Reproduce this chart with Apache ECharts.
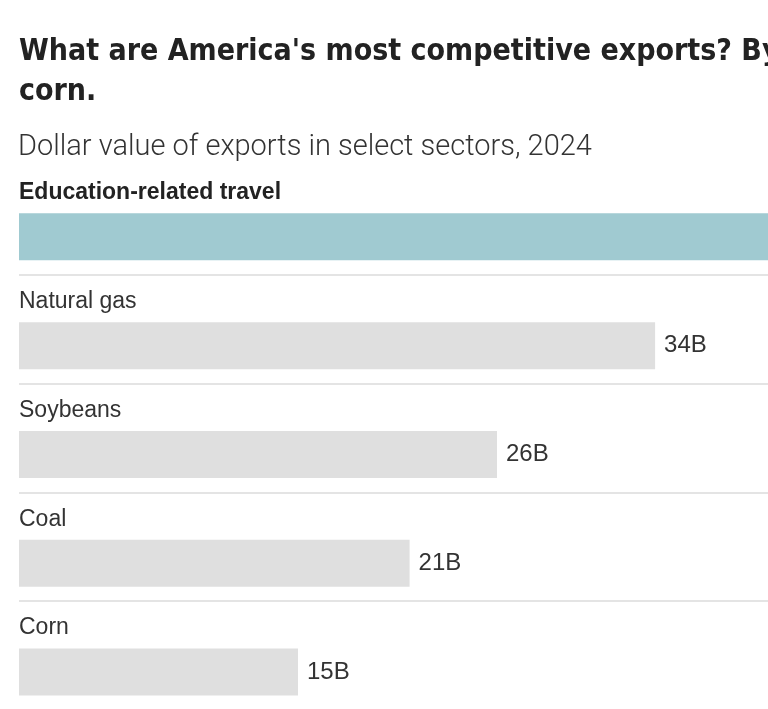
<!DOCTYPE html>
<html>
<head>
<meta charset="utf-8">
<script src="https://cdn.jsdelivr.net/npm/echarts@6/dist/echarts.min.js"></script>
<style>
  html, body { margin: 0; padding: 0; background: #fff; overflow: hidden; }
  /* the graphic is larger than the window; right and bottom edges are cut off like the original */
  #chart { width: 949px; height: 710px; }
</style>
</head>
<body>
<div id="chart"></div>
<script>
// sectors, top to bottom
var categories = ['Education-related travel', 'Natural gas', 'Soybeans', 'Coal', 'Corn'];
// export value, billions of dollars (education bar runs off the right edge)
var values = [44, 34.2, 25.7, 21.0, 15.0];
var barColors = ['#a0cad1', '#dfdfdf', '#dfdfdf', '#dfdfdf', '#dfdfdf'];

var chart = echarts.init(document.getElementById('chart'));

var option = {
  animation: false,
  title: [{
    text: "What are America's most competitive exports? By\ncorn.",
    left: 19,
    top: 32,
    padding: 0,
    textStyle: {
      fontFamily: "'DejaVu Sans Condensed', 'Liberation Sans', sans-serif",
      fontWeight: 'bold',
      fontSize: 30,
      lineHeight: 40,
      color: '#222'
    }
  }, {
    text: 'Dollar value of exports in select sectors, 2024',
    left: 18,
    top: 133,
    padding: 0,
    textStyle: {
      fontFamily: 'Roboto, sans-serif',
      fontWeight: 300,
      fontSize: 29,
      color: '#333'
    }
  }],
  grid: {
    left: 19,
    right: 0,
    top: 166,
    bottom: 0
  },
  xAxis: {
    type: 'value',
    min: 0,
    max: 50,
    show: false
  },
  yAxis: {
    type: 'category',
    data: categories,
    inverse: true,
    axisLine: { show: false },
    axisTick: { show: false },
    splitLine: {
      show: true,
      interval: function (index) { return index > 0; },
      lineStyle: { color: '#e4e4e4', width: 2 }
    },
    axisLabel: {
      inside: true,
      margin: 0,
      padding: [0, 0, 55, 0],
      formatter: function (v, i) {
        return i === 0 ? '{b|' + v + '}' : '{n|' + v + '}';
      },
      rich: {
        b: {
          fontFamily: "'Liberation Sans', sans-serif",
          fontWeight: 'bold',
          fontSize: 23,
          color: '#222'
        },
        n: {
          fontFamily: "'Liberation Sans', sans-serif",
          fontSize: 23,
          color: '#333'
        }
      }
    }
  },
  series: [{
    // spacer so the real bar sits in the lower part of each row
    name: 'spacer',
    type: 'bar',
    barWidth: 47,
    barGap: '-30%',
    silent: true,
    data: ['-', '-', '-', '-', '-'],
    itemStyle: { color: 'rgba(0,0,0,0)' }
  }, {
    name: 'Exports',
    type: 'bar',
    barWidth: 47,
    data: values.map(function (v, i) {
      return { value: v, itemStyle: { color: barColors[i] } };
    }),
    label: {
      show: true,
      position: 'right',
      distance: 9,
      fontFamily: "'Liberation Sans', sans-serif",
      fontSize: 24,
      color: '#333',
      formatter: function (p) { return Math.round(p.value) + 'B'; }
    }
  }]
};

chart.setOption(option);
</script>
</body>
</html>
